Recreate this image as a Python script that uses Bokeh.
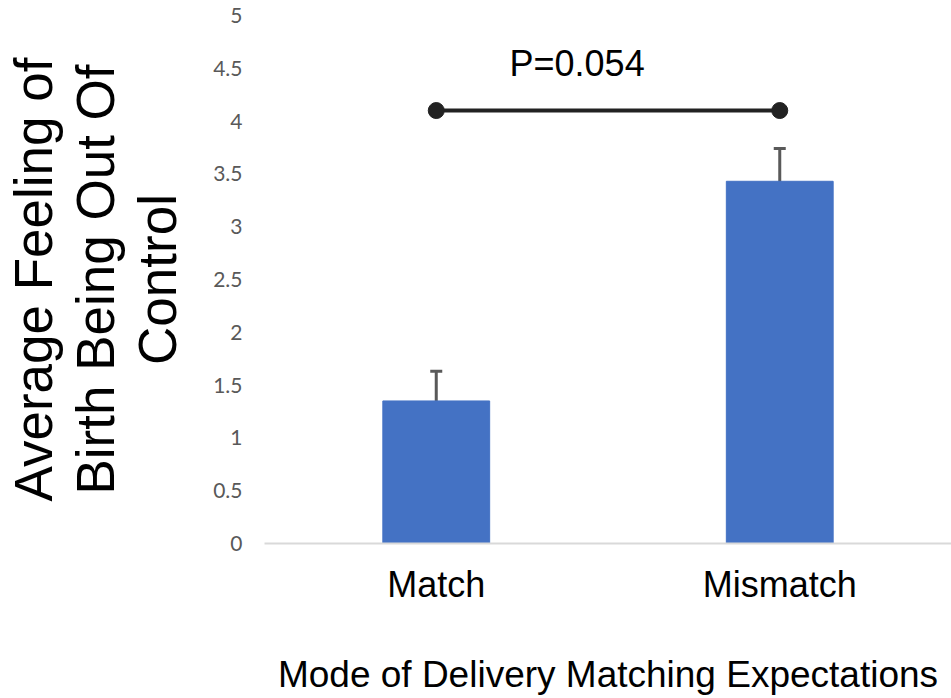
from bokeh.plotting import figure
from bokeh.models import Range1d, FixedTicker, Whisker, ColumnDataSource, Label, CustomJSTickFormatter, TeeHead
from bokeh.embed import file_html
from bokeh.resources import INLINE

# ---- data ----
categories = ["Match", "Mismatch"]
cat_pos = [1, 2]
means = [1.35, 3.43]
errors = [0.28, 0.31]
y_ticks = [0, 0.5, 1, 1.5, 2, 2.5, 3, 3.5, 4, 4.5, 5]
sig_x = [1, 2]
sig_y = [4.1, 4.1]
p_text = "P=0.054"
p_x = 1.41
p_y = 4.55

lower = [m - e for m, e in zip(means, errors)]
upper = [m + e for m, e in zip(means, errors)]
src = ColumnDataSource(dict(x=cat_pos, top=means, lower=lower, upper=upper))

p = figure(width=951, height=698, output_backend="svg", toolbar_location=None,
           x_range=Range1d(0.5, 2.5), y_range=Range1d(0, 5),
           min_border_left=264, min_border_right=0, min_border_top=15, min_border_bottom=155)
p.outline_line_color = None
p.xgrid.grid_line_color = None
p.ygrid.grid_line_color = None
p.background_fill_color = "white"
p.border_fill_color = "white"

p.vbar(x="x", top="top", width=0.311, bottom=0, source=src,
       fill_color="#4472C4", line_color="#4472C4")

w = Whisker(base="x", lower="lower", upper="upper", source=src,
            line_color="#595959", line_width=3,
            upper_head=TeeHead(size=12, line_color="#595959", line_width=3),
            lower_head=TeeHead(size=12, line_color="#595959", line_width=3))
p.add_layout(w)

p.line(sig_x, sig_y, line_color="#222222", line_width=4)
p.scatter(sig_x, sig_y, size=16, fill_color="#222222", line_color="#222222")

p.add_layout(Label(x=p_x, y=p_y, text=p_text, text_align="center", text_baseline="middle",
                   text_font="Liberation Sans", text_font_size="36px", text_color="black"))

# x axis
xa = p.xaxis[0]
xa.ticker = FixedTicker(ticks=cat_pos)
xa.major_label_overrides = {k: v for k, v in zip(cat_pos, categories)}
xa.axis_line_color = "#d9d9d9"
xa.axis_line_width = 2
xa.major_tick_line_color = None
xa.minor_tick_line_color = None
xa.major_tick_out = 0
xa.major_tick_in = 0
xa.major_label_standoff = 20
xa.major_label_text_font = "Liberation Sans"
xa.major_label_text_font_size = "36px"
xa.major_label_text_color = "black"
xa.axis_label = "Mode of Delivery Matching Expectations"
xa.axis_label_text_font = "Liberation Sans"
xa.axis_label_text_font_size = "37px"
xa.axis_label_text_font_style = "normal"
xa.axis_label_text_color = "black"
xa.axis_label_standoff = 46

# y axis
ya = p.yaxis[0]
ya.ticker = FixedTicker(ticks=y_ticks)
ya.formatter = CustomJSTickFormatter(code="return tick.toString();")
ya.axis_line_color = None
ya.major_tick_line_color = None
ya.minor_tick_line_color = None
ya.major_tick_out = 0
ya.major_tick_in = 0
ya.major_label_standoff = 22
ya.major_label_text_font = "Lato"
ya.major_label_text_font_size = "21px"
ya.major_label_text_color = "#595959"
ya.axis_label = "Average Feeling of\nBirth Being Out Of\nControl"
ya.axis_label_text_font = "Liberation Sans"
ya.axis_label_text_font_size = "53px"
ya.axis_label_text_font_style = "normal"
ya.axis_label_text_color = "black"
ya.axis_label_text_line_height = 1.05
ya.axis_label_standoff = 23

open("out.html", "w").write(file_html(p, INLINE))
